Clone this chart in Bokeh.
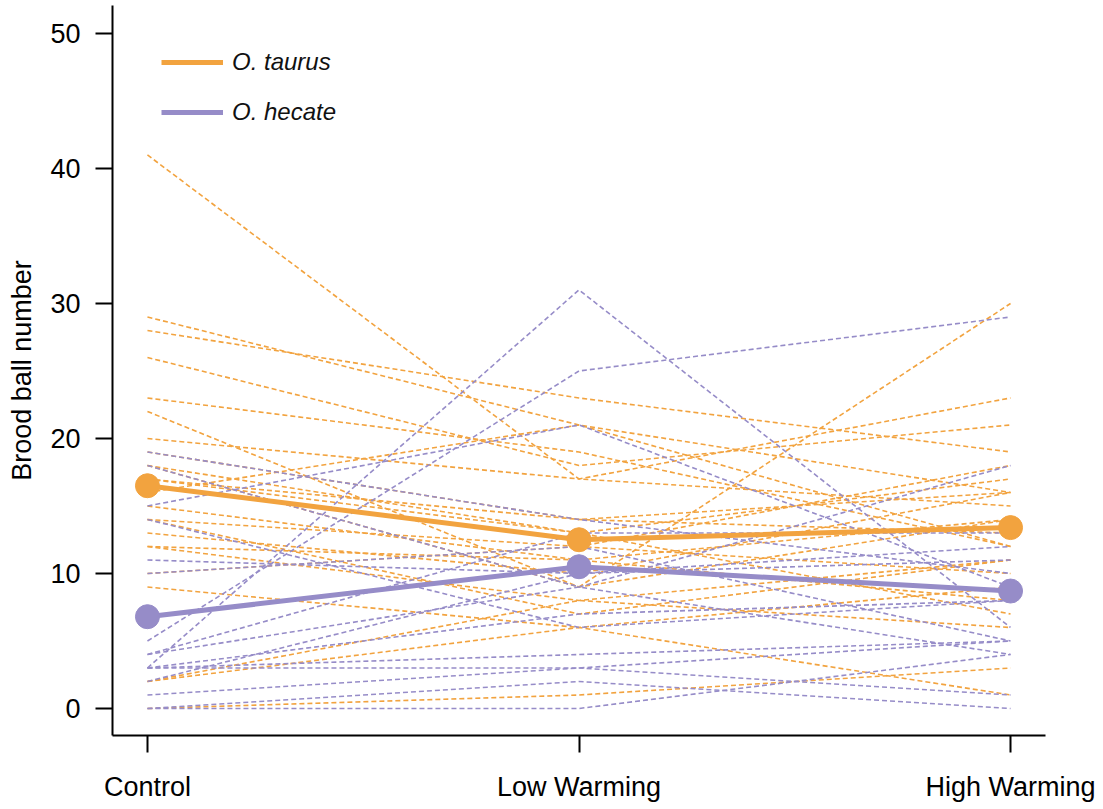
from bokeh.plotting import figure
from bokeh.models import Range1d, FixedTicker, Legend, LegendItem
from bokeh.embed import file_html
from bokeh.resources import INLINE

# Treatments along the x axis
treatments = ["Control", "Low Warming", "High Warming"]

# Brood ball counts per individual female, O. taurus
taurus_control = [41, 29, 28, 26, 23, 20, 18, 18, 17, 14, 14, 13, 12, 2, 2, 0, 15, 10, 9, 16, 19, 17, 12, 22]
taurus_low     = [17, 21, 23, 18, 19, 17, 13, 9, 14, 12, 7, 10, 11, 8, 6, 1, 11, 12, 6, 21, 14, 13, 8, 9]
taurus_high    = [15, 16, 19, 21, 12, 23, 17, 30, 13, 10, 11, 16, 14, 6, 9, 3, 8, 18, 1, 12, 16, 7, 11, 14]

# Brood ball counts per individual female, O. hecate
hecate_control = [3, 5, 19, 18, 15, 11, 10, 4, 4, 3, 3, 2, 1, 0, 0, 14, 3]
hecate_low     = [31, 25, 14, 9, 21, 10, 12, 13, 9, 7, 3, 10, 3, 0, 2, 6, 4]
hecate_high    = [6, 29, 10, 18, 9, 12, 5, 13, 4, 8, 5, 11, 1, 4, 0, 8, 5]

# Treatment means
taurus_mean = [16.5, 12.5, 13.4]
hecate_mean = [6.8, 10.5, 8.7]

y_ticks = [0, 10, 20, 30, 40, 50]

ORANGE = "#F2A33F"
PURPLE = "#968CC8"
FONT = "Liberation Sans"

xpos = list(range(len(treatments)))

p = figure(width=1103, height=809, output_backend="svg", toolbar_location=None,
           x_range=Range1d(-0.081, 2.081), y_range=Range1d(-2.0, 52.07),
           min_border_left=112, min_border_right=58, min_border_top=5, min_border_bottom=74)

p.outline_line_color = None
p.xgrid.visible = False
p.ygrid.visible = False
p.background_fill_color = "white"
p.border_fill_color = "white"

# Individual trajectories (dashed)
t_ys = [list(v) for v in zip(taurus_control, taurus_low, taurus_high)]
h_ys = [list(v) for v in zip(hecate_control, hecate_low, hecate_high)]
p.multi_line(xs=[xpos] * len(t_ys), ys=t_ys, line_color=ORANGE, line_width=1.6, line_dash="5 3")
p.multi_line(xs=[xpos] * len(h_ys), ys=h_ys, line_color=PURPLE, line_width=1.6, line_dash="5 3")

# Mean trajectories
r_t = p.line(xpos, taurus_mean, line_color=ORANGE, line_width=5)
p.scatter(xpos, taurus_mean, size=24, fill_color=ORANGE, line_color=ORANGE)
r_h = p.line(xpos, hecate_mean, line_color=PURPLE, line_width=5)
p.scatter(xpos, hecate_mean, size=24, fill_color=PURPLE, line_color=PURPLE)

legend = Legend(items=[LegendItem(label="O. taurus", renderers=[r_t]),
                       LegendItem(label="O. hecate", renderers=[r_h])],
                location=(49, 608), orientation="vertical",
                glyph_width=62, glyph_height=30, label_height=30, spacing=20,
                label_standoff=9, padding=0, margin=0,
                border_line_color=None, background_fill_alpha=0,
                label_text_font=FONT, label_text_font_size="24px",
                label_text_font_style="italic", label_text_color="#111111")
p.add_layout(legend)

# Axes
p.xaxis.ticker = FixedTicker(ticks=xpos)
p.xaxis.major_label_overrides = {i: t for i, t in enumerate(treatments)}
p.yaxis.ticker = FixedTicker(ticks=y_ticks)
p.yaxis.axis_label = "Brood ball number"

for ax in (p.xaxis[0], p.yaxis[0]):
    ax.axis_line_color = "black"
    ax.axis_line_width = 2
    ax.major_tick_line_color = "black"
    ax.major_tick_line_width = 2
    ax.major_tick_out = 17
    ax.major_tick_in = 0
    ax.minor_tick_line_color = None
    ax.major_label_text_font = FONT
    ax.major_label_text_font_size = "27px"
    ax.major_label_text_color = "black"

p.xaxis.major_label_standoff = 19
p.yaxis.major_label_standoff = 15
p.yaxis.axis_label_text_font = FONT
p.yaxis.axis_label_text_font_size = "27px"
p.yaxis.axis_label_text_font_style = "normal"
p.yaxis.axis_label_text_color = "black"
p.yaxis.axis_label_standoff = 10

open("out.html", "w").write(file_html(p, INLINE))
